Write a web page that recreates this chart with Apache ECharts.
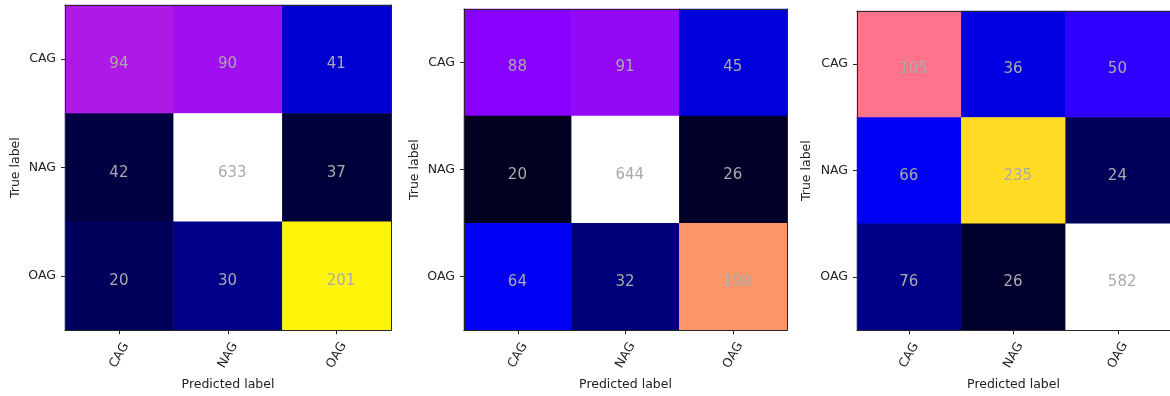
<!DOCTYPE html>
<html>
<head>
<meta charset="utf-8">
<script src="https://cdn.jsdelivr.net/npm/echarts@6/dist/echarts.min.js"></script>
<style>
html,body{margin:0;padding:0;background:#fff;}
#chart{width:1170px;height:396px;}
</style>
</head>
<body>
<div id="chart"></div>
<script>
// ---- data ----
var classes = ['CAG', 'NAG', 'OAG'];
var xTitle = 'Predicted label';
var yTitle = 'True label';
// rows = true label, columns = predicted label
var matrix1 = [[94, 90, 41], [42, 633, 37], [20, 30, 201]];
var matrix2 = [[88, 91, 45], [20, 644, 26], [64, 32, 190]];
var matrix3 = [[105, 36, 50], [66, 235, 24], [76, 26, 582]];
var matrices = [matrix1, matrix2, matrix3];

// ---- gnuplot2 colormap ----
function clip(v){ return Math.max(0, Math.min(1, v)); }
function gnuplot2(x){
  var r = clip(x / 0.32 - 0.78125);
  var g = clip(2 * x - 0.84);
  var b = clip(x < 0.25 ? 4 * x : (x < 0.92 ? -2 * x + 1.84 : x / 0.08 - 11.5));
  return 'rgb(' + Math.round(r * 255) + ',' + Math.round(g * 255) + ',' + Math.round(b * 255) + ')';
}
var cmap = [];
for (var i = 0; i <= 200; i++) cmap.push(gnuplot2(i / 200));

// ---- layout ----
var grids = [
  {left: 65, top: 5, width: 326, height: 327},
  {left: 464, top: 9, width: 323, height: 323},
  {left: 857, top: 11, width: 321, height: 322}
];
var yNameGaps = [43, 43, 44];

var font = 'DejaVu Sans';
var frame = '#262626';
var option = {
  animation: false,
  backgroundColor: '#ffffff',
  grid: grids,
  xAxis: [], yAxis: [], series: [], visualMap: []
};

matrices.forEach(function(m, k){
  var data = [];
  var normVals = [];
  m.forEach(function(row, r){
    var s = row.reduce(function(a, b){ return a + b; }, 0);
    row.forEach(function(v, c){
      var n = v / s;
      normVals.push(n);
      data.push([c, r, v, n]);
    });
  });
  // bottom x axis
  option.xAxis.push({
    type: 'category', gridIndex: k, data: classes, position: 'bottom', z: 10,
    name: xTitle, nameLocation: 'middle', nameGap: 46,
    nameTextStyle: {fontFamily: font, fontSize: 12.5, color: '#222'},
    axisLine: {show: true, lineStyle: {color: frame, width: 1}},
    axisTick: {show: true, alignWithLabel: true, length: 4, lineStyle: {color: frame}},
    axisLabel: {rotate: 60, align: 'center', verticalAlign: 'middle', margin: 25,
      fontFamily: font, fontSize: 12.5, color: '#222'},
    splitLine: {show: false}
  });
  // top frame
  option.xAxis.push({
    type: 'category', gridIndex: k, data: classes, position: 'top', z: 10,
    axisLine: {show: true, onZero: false, lineStyle: {color: frame, width: 1}},
    axisTick: {show: false}, axisLabel: {show: false}, splitLine: {show: false}
  });
  option.yAxis.push({
    type: 'category', gridIndex: k, data: classes, inverse: true, position: 'left', z: 10,
    name: yTitle, nameLocation: 'middle', nameGap: yNameGaps[k], nameRotate: 90,
    nameTextStyle: {fontFamily: font, fontSize: 12.5, color: '#222'},
    axisLine: {show: true, lineStyle: {color: frame, width: 1}},
    axisTick: {show: true, alignWithLabel: true, length: 4, lineStyle: {color: frame}},
    axisLabel: {margin: 9, fontFamily: font, fontSize: 12.5, color: '#222'},
    splitLine: {show: false}
  });
  option.yAxis.push({
    type: 'category', gridIndex: k, data: classes, inverse: true, position: 'right', z: 10,
    axisLine: {show: true, onZero: false, lineStyle: {color: frame, width: 1}},
    axisTick: {show: false}, axisLabel: {show: false}, splitLine: {show: false}
  });
  option.visualMap.push({
    type: 'continuous', show: false, seriesIndex: k, dimension: 3,
    min: 0, max: Math.max.apply(null, normVals),
    inRange: {color: cmap}
  });
  option.series.push({
    type: 'heatmap', xAxisIndex: 2 * k, yAxisIndex: 2 * k, data: data,
    label: {show: true, fontFamily: font, fontSize: 15, color: '#aaaaaa',
      align: 'left', offset: [-10, 5],
      formatter: function(p){ return String(p.value[2]); }},
    itemStyle: {borderWidth: 0},
    emphasis: {disabled: true}
  });
});

var chart = echarts.init(document.getElementById('chart'), null, {renderer: 'canvas'});
chart.setOption(option);
</script>
</body>
</html>
